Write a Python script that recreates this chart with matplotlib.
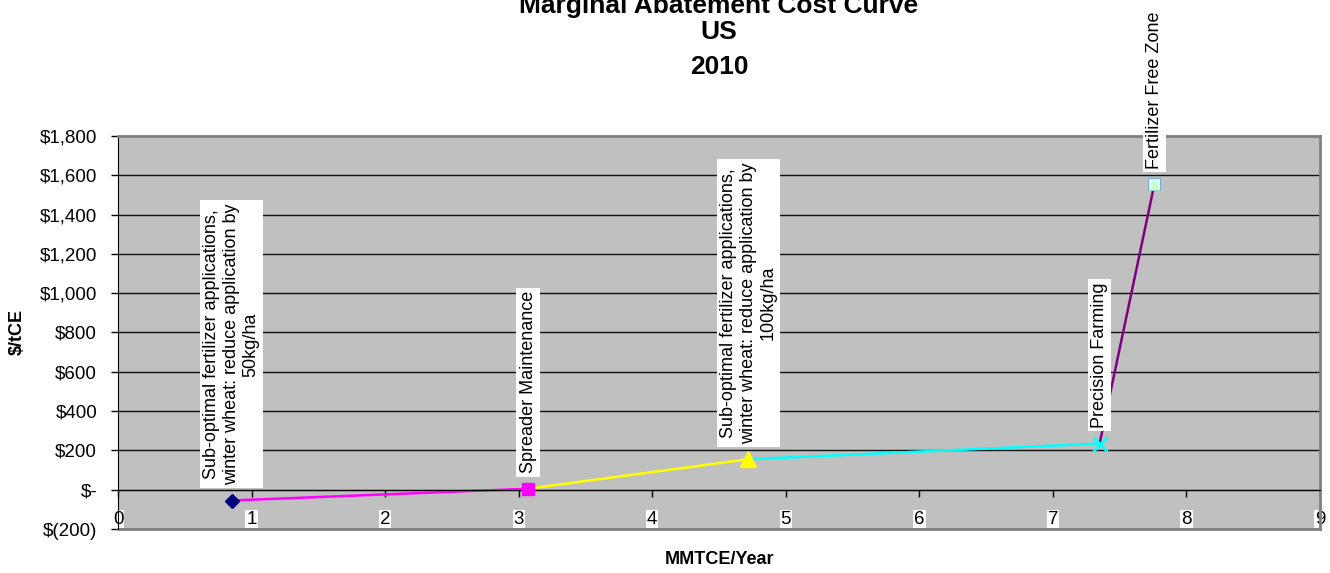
import numpy as np
import matplotlib.pyplot as plt

plt.rcParams['font.family'] = ['Liberation Sans', 'DejaVu Sans']

# data
measures = ['Sub-optimal fertilizer applications,\nwinter wheat: reduce application by\n50kg/ha',
            'Spreader Maintenance',
            'Sub-optimal fertilizer applications,\nwinter wheat: reduce application by\n100kg/ha',
            'Precision Farming',
            'Fertilizer Free Zone']
mmtce = [0.85, 3.07, 4.72, 7.35, 7.76]       # cumulative MMTCE/Year
cost = [-55, 5, 155, 235, 1555]              # $/tCE
x_ticks = list(range(0, 10))
y_ticks = [-200, 0, 200, 400, 600, 800, 1000, 1200, 1400, 1600, 1800]
y_tick_labels = ['$(200)', '$-', '$200', '$400', '$600', '$800', '$1,000',
                 '$1,200', '$1,400', '$1,600', '$1,800']

line_colors = ['#000080', '#FF00FF', '#FFFF00', '#00FFFF', '#800080']

fig = plt.figure(figsize=(13.3, 5.73), dpi=100)
ax = fig.add_axes([118/1330, 1-529/573, 1202/1330, 393/573])
ax.set_facecolor('#C0C0C0')

# x axis crosses at zero, frame in gray (do this first: it resets the ticks)
ax.spines['bottom'].set_position(('data', 0))
ax.spines['bottom'].set_color('black')
ax.spines['left'].set_color('black')
for s in ['top', 'right']:
    ax.spines[s].set_color('#808080')
    ax.spines[s].set_linewidth(2)
ax.axhline(-200, color='#808080', lw=2, clip_on=False, zorder=1)

# each series runs from the previous point to its own point
for i in range(1, len(mmtce)):
    ax.plot(mmtce[i-1:i+1], cost[i-1:i+1], color=line_colors[i], lw=1.8, zorder=2, clip_on=False)

ax.plot(mmtce[0], cost[0], marker='D', ms=7, color='#000080', zorder=4, clip_on=False)
ax.plot(mmtce[1], cost[1], marker='s', ms=9, color='#FF00FF', zorder=4)
ax.plot(mmtce[2], cost[2], marker='^', ms=11, color='#FFFF00', zorder=4)
ax.plot(mmtce[3], cost[3], marker='x', ms=10, mew=2, color='#00FFFF', zorder=4)
ax.plot(mmtce[4], cost[4], marker='s', ms=9, mfc='#CCFFFF', mec='#6F9BD0', mew=0.6, zorder=4)
ax.plot(mmtce[4], cost[4], marker='^', ms=8, mfc='#CCFFCC', mec='none', zorder=4)

# rotated labels in white boxes above each point
for x, y, name in zip(mmtce, cost, measures):
    ax.annotate(name, (x, y), xytext=(0, 11), textcoords='offset points',
                rotation=90, ha='center', va='bottom', multialignment='center',
                fontsize=13, zorder=5, annotation_clip=False,
                bbox=dict(boxstyle='square,pad=0.18', fc='white', ec='none'))

ax.set_xlim(0, 9)
ax.set_ylim(-200, 1800)
ax.set_xticks(x_ticks)
ax.set_yticks(y_ticks)
ax.set_yticklabels(y_tick_labels)
ax.set_xticklabels([str(t) for t in x_ticks])
ax.tick_params(axis='both', direction='out', length=5, width=1, color='black', labelsize=13.5)
ax.tick_params(axis='x', pad=10)
ax.tick_params(axis='y', pad=10)
for lbl in ax.get_xticklabels():
    lbl.set_bbox(dict(boxstyle='square,pad=0.05', fc='white', ec='none'))

ax.yaxis.grid(True, color='#111111', lw=1)
ax.set_axisbelow(True)

# titles
fig.text(719/1330, 1-13/573, 'Marginal Abatement Cost Curve', ha='center', va='baseline', fontsize=19, fontweight='bold')
fig.text(719/1330, 1-39/573, 'US', ha='center', va='baseline', fontsize=19, fontweight='bold')
fig.text(719/1330, 1-74/573, '2010', ha='center', va='baseline', fontsize=19, fontweight='bold')
fig.text(17/1330, 1-332/573, '$/tCE', rotation=90, ha='center', va='center', fontsize=13, fontweight='bold')
fig.text(719/1330, 1-560/573, 'MMTCE/Year', ha='center', va='center', fontsize=13, fontweight='bold')

plt.savefig('out.png', dpi=100)
plt.close(fig)
